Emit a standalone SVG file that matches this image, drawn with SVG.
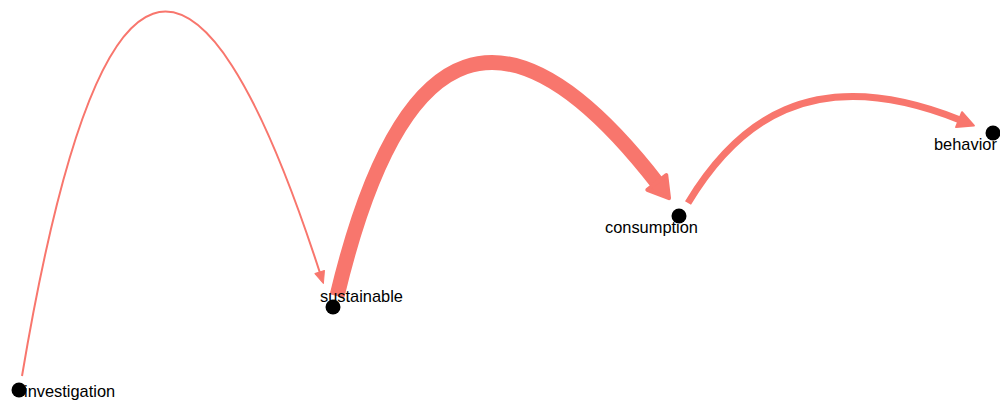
<svg xmlns="http://www.w3.org/2000/svg" width="1000" height="403" viewBox="0 0 1000 403">
<style>
.edge{fill:none;stroke:#F8766D;stroke-linecap:butt}
.head{fill:#F8766D;stroke:#F8766D;stroke-linejoin:round}
.node{fill:#000}
.lbl{font-family:"Liberation Sans",Arial,sans-serif;font-size:16.4px;fill:#000}
</style>
<defs>
<marker id="a1" markerUnits="userSpaceOnUse" orient="auto" markerWidth="20" markerHeight="20" refX="1" refY="10" viewBox="0 0 20 20" overflow="visible">
<path class="head" stroke-width="1" d="M0,5 L12,10 L0,15 Z"/>
</marker>
<marker id="a2" markerUnits="userSpaceOnUse" orient="auto" markerWidth="40" markerHeight="40" refX="2" refY="20" viewBox="0 0 40 40" overflow="visible">
<path class="head" stroke-width="4" d="M0,8 L20,20 L0,32 Z"/>
</marker>
<marker id="a3" markerUnits="userSpaceOnUse" orient="auto" markerWidth="30" markerHeight="30" refX="1" refY="15" viewBox="0 0 30 30" overflow="visible">
<path class="head" stroke-width="2" d="M0,7 L16,15 L0,23 Z"/>
</marker>
</defs>
<g id="edges">
<path class="edge" stroke-width="2" marker-end="url(#a1)" d="M22,376 Q135,-297 320,273"/>
<path class="edge" stroke-width="15" marker-end="url(#a2)" d="M337,296 Q433,-106 658,184"/>
<path class="edge" stroke-width="7" marker-end="url(#a3)" d="M688,203 C735,125 810,60 960,120"/>
</g>
<g id="node-investigation"><circle class="node" cx="19" cy="390" r="7.5"/><text class="lbl" x="24" y="397">investigation</text></g>
<g id="node-sustainable"><circle class="node" cx="333" cy="307" r="7.5"/><text class="lbl" x="320" y="302">sustainable</text></g>
<g id="node-consumption"><circle class="node" cx="679" cy="216" r="7.5"/><text class="lbl" x="605" y="233">consumption</text></g>
<g id="node-behavior"><circle class="node" cx="993" cy="133" r="7.5"/><text class="lbl" x="934" y="150">behavior</text></g>
</svg>
